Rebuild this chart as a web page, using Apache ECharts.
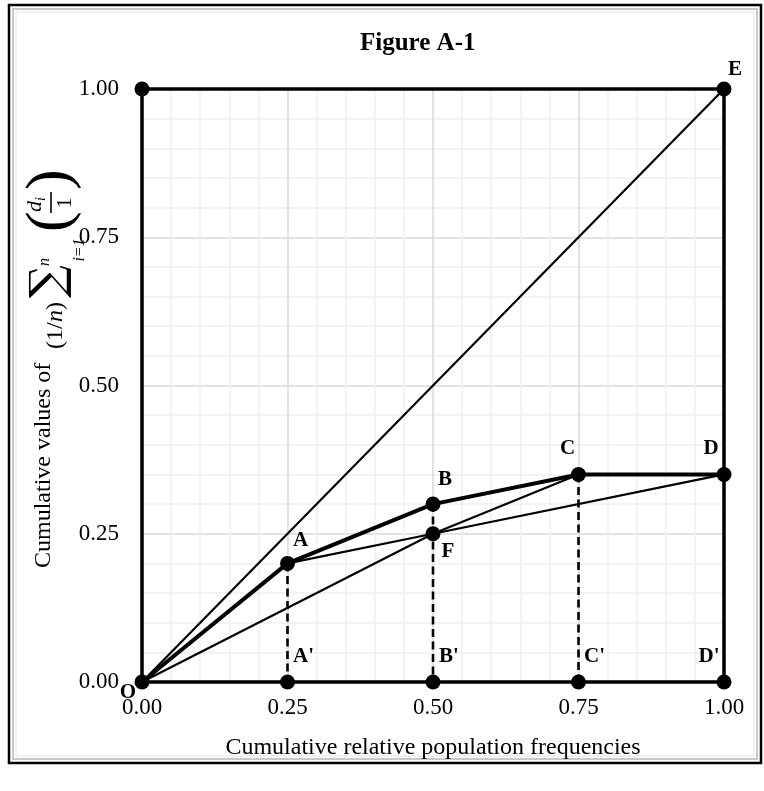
<!DOCTYPE html>
<html>
<head>
<meta charset="utf-8">
<script src="https://cdn.jsdelivr.net/npm/echarts@6/dist/echarts.min.js"></script>
<style>
  html, body { margin: 0; padding: 0; background: #fff; }
  #main { width: 764px; height: 791px; }
</style>
</head>
<body>
<div id="main"></div>
<script>
var myChart = echarts.init(document.getElementById('main'));

// named points of the figure
var pointNames = ['O', 'A', 'B', 'C', 'D', 'E', 'F', "A'", "B'", "C'", "D'", ''];
var pointX     = [0,   0.25, 0.5, 0.75, 1,   1,   0.5,  0.25, 0.5, 0.75, 1,  0];
var pointY     = [0,   0.2,  0.3, 0.35, 0.35, 1,  0.25, 0,    0,   0,    0,  1];

var tickValues = [0, 0.25, 0.5, 0.75, 1];

// lines between points (by name)
var framePath   = ['O', "D'", 'E', '', 'O'];
var lorenzPath  = ['O', 'A', 'B', 'C', 'D'];
var diagonal    = ['O', 'E'];
var lowerPath   = ['O', 'F', 'D'];
var middlePath  = ['A', 'F', 'C'];
var dashedDrops = [['A', "A'"], ['B', "B'"], ['C', "C'"]];

// label placement for each point name
var labelOffset = {
  'O': [-14, 11], 'A': [13, -23], 'B': [12, -25], 'C': [-11, -26], 'D': [-13, -26],
  'E': [11, -19], 'F': [15, 18], "A'": [16, -25], "B'": [16, -25], "C'": [16, -25], "D'": [-15, -25]
};

function pt(name) {
  var i = pointNames.indexOf(name);
  return [pointX[i], pointY[i]];
}
function path(names) { return names.map(pt); }

function lineSeries(names, width, type) {
  return {
    type: 'line',
    data: path(names),
    symbol: 'none',
    clip: false,
    silent: true,
    lineStyle: { color: '#000', width: width, type: type || 'solid' },
    z: 3
  };
}

var series = [
  lineSeries(framePath, 3.5),
  lineSeries(lorenzPath, 4),
  lineSeries(diagonal, 2.2),
  lineSeries(lowerPath, 2.2),
  lineSeries(middlePath, 2.2)
];
dashedDrops.forEach(function (d) {
  series.push(lineSeries(d, 2.6, [8, 4.5]));
});

series.push({
  type: 'scatter',
  symbolSize: 15,
  clip: false,
  itemStyle: { color: '#000', opacity: 1 },
  z: 5,
  data: pointNames.map(function (n, i) {
    var off = labelOffset[n] || [0, 0];
    return {
      value: [pointX[i], pointY[i]],
      label: {
        show: n !== '',
        position: 'inside',
        offset: off,
        formatter: n,
        color: '#000',
        fontFamily: 'Liberation Serif',
        fontWeight: 'bold',
        fontSize: 21
      }
    };
  })
});

var serif = 'Liberation Serif';
var black = '#000';

// y axis title, written along the axis (rotated group)
function txt(text, x, y, font, align) {
  return {
    type: 'text', x: x, y: y, silent: true,
    style: { text: text, font: font, fill: black, align: align || 'left', verticalAlign: 'middle',
             textAlign: align || 'left', textVerticalAlign: 'middle' }
  };
}
var yTitle = {
  type: 'group',
  x: 44, y: 568,
  rotation: Math.PI / 2,
  silent: true,
  children: [
    txt('Cumulative values of', 0, 0, '24px "Liberation Serif"'),
    txt('(1/', 219, 12, '24px "Liberation Serif"'),
    txt('n', 246, 12, 'italic 24px "Liberation Serif"'),
    txt(')', 258, 12, '24px "Liberation Serif"'),
    txt('∑', 270, 6, '46px "DejaVu Serif"'),
    txt('n', 302, 1, 'italic 16px "Liberation Serif"'),
    txt('i=1', 318, 36, 'italic 16px "Liberation Serif"', 'center'),
    txt('(', 336, 8, '62px "Liberation Serif"'),
    txt('d', 356, -9, 'italic 22px "Liberation Serif"'),
    txt('i', 367, -3, 'italic 14px "Liberation Serif"'),
    {
      type: 'line', silent: true,
      shape: { x1: 355, y1: 7, x2: 376, y2: 7 },
      style: { stroke: black, lineWidth: 1.6 }
    },
    txt('1', 365, 21, '22px "Liberation Serif"', 'center'),
    txt(')', 378, 8, '62px "Liberation Serif"')
  ]
};

var option = {
  backgroundColor: '#fff',
  animation: false,
  title: {
    text: 'Figure A-1',
    left: 355,
    top: 26,
    textStyle: { fontFamily: serif, fontWeight: 'bold', fontSize: 25, color: black }
  },
  grid: { left: 142, right: 40, top: 89, bottom: 109 },
  xAxis: {
    type: 'value',
    min: 0, max: 1, interval: 0.25,
    name: 'Cumulative relative population frequencies',
    nameLocation: 'middle',
    nameGap: 54,
    nameTextStyle: { fontFamily: serif, fontSize: 24, color: black },
    axisLine: { show: false },
    axisTick: { show: false },
    axisLabel: {
      margin: 14, fontFamily: serif, fontSize: 23, color: black,
      customValues: tickValues,
      formatter: function (v) { return v.toFixed(2); }
    },
    splitLine: { show: true, lineStyle: { color: '#d9d9d9', width: 1.5 } },
    minorTick: { show: false, splitNumber: 5 },
    minorSplitLine: { show: true, lineStyle: { color: '#efefef', width: 1.5 } }
  },
  yAxis: {
    type: 'value',
    min: 0, max: 1, interval: 0.25,
    axisLine: { show: false },
    axisTick: { show: false },
    axisLabel: {
      margin: 23, fontFamily: serif, fontSize: 23, color: black,
      formatter: function (v) { return v.toFixed(2); }
    },
    splitLine: { show: true, lineStyle: { color: '#d9d9d9', width: 1.5 } },
    minorTick: { show: false, splitNumber: 5 },
    minorSplitLine: { show: true, lineStyle: { color: '#efefef', width: 1.5 } }
  },
  graphic: [
    { type: 'rect', shape: { x: 9, y: 5, width: 752, height: 758 }, style: { fill: null, stroke: black, lineWidth: 2.5 }, silent: true },
    { type: 'rect', shape: { x: 13, y: 9, width: 744, height: 750 }, style: { fill: null, stroke: '#c8c8c8', lineWidth: 2 }, silent: true },
    { type: 'rect', shape: { x: 16, y: 12, width: 738, height: 744 }, style: { fill: null, stroke: '#ececec', lineWidth: 1.5 }, silent: true },
    yTitle
  ],
  series: series
};
myChart.setOption(option);
</script>
</body>
</html>
